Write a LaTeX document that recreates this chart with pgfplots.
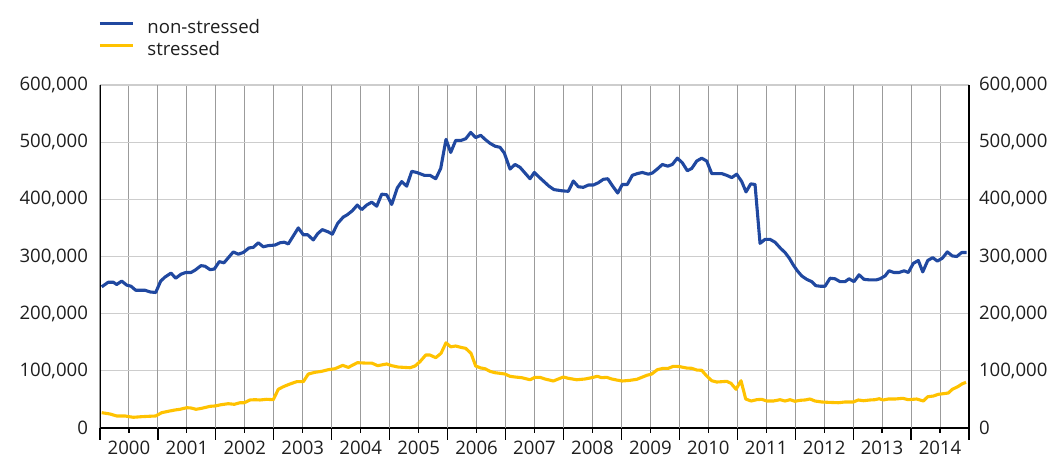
\documentclass[border=0pt]{standalone}
\usepackage{pgfplots}
\pgfplotsset{compat=1.18}
\usepackage{pgfplotstable}
\usepackage{fontspec}
\setmainfont{Open Sans}
\definecolor{nsblue}{RGB}{32,72,160}
\definecolor{syellow}{RGB}{255,194,0}
\definecolor{txt}{RGB}{30,30,30}
\definecolor{gridv}{RGB}{155,155,155}
\definecolor{gridh}{RGB}{205,205,205}

% column pos: horizontal position (converted to years below); v: thousands
\pgfplotstableread{
pos v
101.7 247
108.3 255
113.3 255
116.7 251
121.7 257
126.7 250
131 248
135.7 241
145 241
150 238
155.7 237
160.7 257
165 264
171 271
175.7 262
181 269
185.7 272
191 272
195 276
201 284
205 283
210 277
214.3 278
219.3 291
224 289
233.3 308
238.3 304
243.3 307
249 315
253.3 316
258.3 324
263.3 317
268.3 319
275 320
280 324
284.3 325
288.3 322
298.3 350
303.3 338
307.7 338
313.3 329
317.7 340
322.3 347
328.3 343
332.3 339
337.7 358
343.3 369
347.3 373
352.3 380
357.3 390
361.7 382
366.7 390
371.7 395
376.7 388
381.7 409
386.7 408
391.7 391
397.3 420
401.7 431
406.7 423
411.7 449
416.7 447
424.3 442
430 442
435.7 436
440.7 454
446 505
450.7 482
455.7 503
461 503
465.7 506
470.7 517
475.7 508
480.7 512
485 505
490 498
495 493
500 491
504.3 481
510 453
515 461
520 456
525 446
530 436
534.3 447
539 439
544 431
549 423
554 417
561.7 415
568.3 414
573.3 432
578.3 422
583.3 421
588.3 425
593.3 425
598.3 429
603.3 435
607.7 436
612.7 423
617.7 411
622.3 426
627.3 426
632.3 442
637.3 445
642.3 447
648.3 444
652.3 446
657.3 453
662.3 461
667.7 458
672.3 461
677.3 472
682.3 464
687.3 450
691.7 454
696.7 467
701.7 472
706.7 467
711.7 445
721.7 445
726.7 442
731.7 438
736.7 444
741.7 431
746 413
750.7 427
755 426
760 323
765 330
770 330
775 325
780.7 314
785 307
789.3 297
793.3 285
797.3 275
801.7 266
806.7 260
811.7 256
815.7 249
820 248
825 248
830 262
835 261
840 256
845 256
849 261
854 256
859 268
864 260
870 259
876 259
880 261
885 266
889 275
894 272
899 272
904 275
908.3 272
913.3 288
918.3 293
922.7 273
927.7 293
932.7 298
937.3 292
942.3 297
947.3 308
952.3 301
956.7 300
961.7 307
966.7 307
}\nonstressed

\pgfplotstableread{
pos v
101.7 26.8
110 24.5
116.7 21
125 21
133.3 18.7
141.7 19.8
148.3 20.4
155.7 21
161.7 26.8
168.3 29.2
175 31.5
180 32.7
186.7 35.5
191 35
196 32.7
201.7 34.4
210 37.9
215 38.5
221 40.7
228.3 42.5
234.3 41.4
240 44.2
244.3 44.2
250 49
255 49.5
260 49
266.7 50.2
273.3 49.5
278.3 67.7
283.3 72.2
290 77
296.7 81
303.3 81
308.3 94.4
315 97.4
321.7 99.1
328.3 102
335 103.7
342.7 109.6
348.3 106
357.3 114.2
365 113.6
371.7 113.6
377.7 109
386.7 112
391.7 109
398.3 106.6
410 105.4
415 108.4
420 116
425.7 127.6
430 127.6
435.7 123
441 130.6
446 149
450.7 142
455.7 143.4
461 141
465.7 139.3
471 130.6
475.7 108.4
480.7 105
485 103.7
490 99.1
495 96.7
500 95.6
505 94.4
510 90.4
515 89.2
521.7 88
530 84.4
535 88.6
540 88.6
545 85.7
553.3 82.2
558.3 85.7
563.3 89.2
568.3 86.9
576.7 84.4
585 85.7
591.7 88
597.3 90.4
601.7 88
606.7 88.6
611.7 85.7
616.7 83.9
622.3 82.2
630 83.4
636.7 85.1
641.7 88.6
646.7 92.1
651.7 94.4
657.3 102
663.3 104.4
668.3 104.4
673.3 107.9
679 107.5
686.7 104.9
691.7 104.4
696.7 101.4
701.7 100.9
706.7 90.9
711.7 82.7
716.7 80.4
721.7 81
726.7 81.6
731 78.1
736 67.7
741 82.7
745.7 50.7
751 47.2
756.7 49.5
761.7 50.2
766.7 47.2
773.3 47.2
780 49.5
785 47.2
790 49.5
795 46.7
800 48.4
805 49
810 50.7
815 47.2
821.7 45.5
828.3 44.9
838.3 44.2
845 45.5
853.3 45.5
858.3 49
863.3 47.7
870 49
875 49.5
879 51.2
883.3 49
888.3 50.7
895 50.7
902.7 51.9
908.3 49.5
916.7 50.7
923.3 47.2
927.7 54.7
933.3 55.9
938.3 58.9
943.3 60
948.3 61.2
952.3 67.7
957.7 72.2
962.3 77.4
966 79.9
}\stressed

\pgfplotsset{
  common/.style={
    at={(0,0)}, anchor=south west,
    scale only axis, width=434.5pt, height=171.5pt,
    xmin=2000, xmax=2015, ymin=0, ymax=600,
    axis line style={black, line width=0.6pt},
    tick label style={font=\fontsize{9.3}{11}\selectfont, text=txt},
    ytick={0,100,200,300,400,500,600},
    yticklabels={0,{100,000},{200,000},{300,000},{400,000},{500,000},{600,000}},
    ytick style={draw=none},
  }
}

\begin{document}
\begin{tikzpicture}
\useasboundingbox (-50pt,-15.5pt) rectangle (475.5pt,214pt);
\begin{axis}[common,
  axis x line*=bottom, axis y line*=left,
  tick align=outside,
  xtick={2000.5,2001.5,2002.5,2003.5,2004.5,2005.5,2006.5,2007.5,2008.5,2009.5,2010.5,2011.5,2012.5,2013.5,2014.5},
  xticklabels={2000,2001,2002,2003,2004,2005,2006,2007,2008,2009,2010,2011,2012,2013,2014},
  xtick style={black, line width=0.6pt},
  major tick length=2.5pt,
  extra x ticks={2000,2001,2002,2003,2004,2005,2006,2007,2008,2009,2010,2011,2012,2013,2014,2015},
  extra x tick labels={},
  extra x tick style={grid=major, major tick length=6pt},
  xmajorgrids, ymajorgrids,
  x grid style={gridv, line width=0.5pt},
  y grid style={gridh, line width=0.6pt},
  xticklabel style={yshift=-3pt, inner sep=0.8pt},
  yticklabel style={xshift=0pt},
  legend cell align=left,
  legend style={at={(0,1)}, anchor=south west, xshift=-1pt, yshift=11.5pt,
    draw=none, fill=none, inner sep=0pt,
    font=\fontsize{9.3}{11}\selectfont, text=txt,
    nodes={inner sep=1pt, text height=7pt, text depth=2pt},
    /tikz/every odd column/.append style={column sep=5.5pt}},
  legend image code/.code={\draw[#1, line width=1.5pt] (0pt,2.5pt) -- (16.5pt,2.5pt);},
]
\addplot[nsblue, line width=1.55pt, line join=round] table[x expr=2000+(\thisrow{pos}-100)/57.93, y=v] {\nonstressed};
\addlegendentry{non-stressed}
\addplot[syellow, line width=1.55pt, line join=round] table[x expr=2000+(\thisrow{pos}-100)/57.93, y=v] {\stressed};
\addlegendentry{stressed}
\end{axis}
\begin{axis}[common,
  axis x line=none, axis y line*=right,
  yticklabel style={xshift=1.5pt},
]
\addplot[draw=none] coordinates {(2000,0) (2015,600)};
\end{axis}
\end{tikzpicture}
\end{document}
